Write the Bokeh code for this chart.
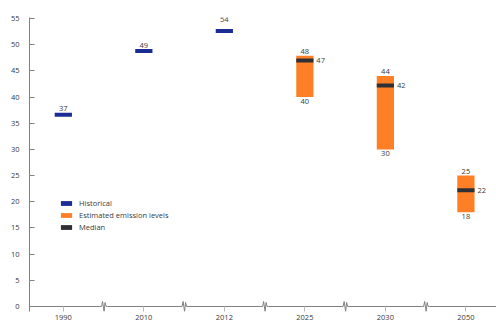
from bokeh.plotting import figure
from bokeh.models import Range1d, FixedTicker, Legend, LegendItem, ColumnDataSource
from bokeh.core.properties import value
from bokeh.embed import file_html
from bokeh.resources import INLINE

# ---- data ----
categories = ["1990", "2010", "2012", "2025", "2030", "2050"]
hist_idx = [0, 1, 2]
hist_values = [36.6, 48.8, 52.6]
hist_labels = [37, 49, 54]

est_idx = [3, 4, 5]
est_low = [40.0, 30.0, 18.0]
est_high = [47.9, 44.0, 25.0]
est_median = [47.0, 42.2, 22.2]
est_low_labels = [40, 30, 18]
est_high_labels = [48, 44, 25]
est_median_labels = [47, 42, 22]

y_ticks = list(range(0, 60, 5))

# ---- style ----
FONT = "Open Sans"
FS = "7.5px"
TXT = "#3a3a3a"
BLUE = "#1b2c92"
ORANGE = "#ff7f27"
DARK = "#2e3035"
AXIS = "#808080"

W, H = 496, 326
x0, x1 = -0.42, 5.38
y0, y1 = -0.955, 55.19

p = figure(width=W, height=H, output_backend="svg", toolbar_location=None,
           x_range=Range1d(x0, x1), y_range=Range1d(y0, y1),
           min_border_left=29, min_border_right=0, min_border_top=17, min_border_bottom=15)
p.outline_line_color = None
p.grid.visible = False
p.background_fill_color = "white"

BAR_W = 0.214
tf = value(FONT)

# historical
hsrc = ColumnDataSource(dict(x=hist_idx, y=hist_values, ly=hist_labels,
                             t=[str(v) for v in hist_labels]))
r_hist = p.rect(x="x", y="y", width=BAR_W, height=4, height_units="screen",
                fill_color=BLUE, line_color=None, source=hsrc)
p.text(x="x", y="ly", text="t", source=hsrc, text_align="center", text_baseline="bottom",
       y_offset=-2, text_font=tf, text_font_size=FS, text_color=TXT)

# estimates
esrc = ColumnDataSource(dict(x=est_idx, lo=est_low, hi=est_high, med=est_median,
                             tlo=[str(v) for v in est_low_labels],
                             thi=[str(v) for v in est_high_labels],
                             tmed=[str(v) for v in est_median_labels]))
r_est = p.vbar(x="x", bottom="lo", top="hi", width=BAR_W, fill_color=ORANGE,
               line_color=None, source=esrc)
r_med = p.rect(x="x", y="med", width=BAR_W, height=4, height_units="screen",
               fill_color=DARK, line_color=None, source=esrc)
p.text(x="x", y="hi", text="thi", source=esrc, text_align="center", text_baseline="bottom",
       y_offset=-2, text_font=tf, text_font_size=FS, text_color=TXT)
p.text(x="x", y="lo", text="tlo", source=esrc, text_align="center", text_baseline="top",
       y_offset=2, text_font=tf, text_font_size=FS, text_color=TXT)
p.text(x="x", y="med", text="tmed", source=esrc, text_align="left", text_baseline="middle",
       x_offset=11.5, text_font=tf, text_font_size=FS, text_color=TXT)

# x axis line with break marks between categories
frame_w = W - 29
frame_h = H - 17 - 15
dxp = (x1 - x0) / frame_w
dyp = (y1 - y0) / frame_h
zig = [(-4, 0), (-2, 0), (-1, 5), (0.5, -5), (1.5, 4), (2.5, 0), (4, 0)]
ax_x, ax_y = [x0], [0.0]
for i in range(len(categories) - 1):
    b = i + 0.5
    for zx, zy in zig:
        ax_x.append(b + zx * dxp)
        ax_y.append(zy * dyp)
ax_x.append(x1)
ax_y.append(0.0)
p.line(ax_x, ax_y, line_color=AXIS, line_width=1)

# axes
xa = p.xaxis[0]
xa.ticker = FixedTicker(ticks=list(range(len(categories))))
xa.major_label_overrides = {i: c for i, c in enumerate(categories)}
xa.axis_line_color = None
xa.major_tick_in = 5
xa.major_tick_out = 0
xa.major_tick_line_color = "#bbbbbb"
xa.minor_tick_line_color = None
xa.major_label_standoff = 3
xa.major_label_text_font = FONT
xa.major_label_text_font_size = FS
xa.major_label_text_color = TXT

ya = p.yaxis[0]
ya.ticker = FixedTicker(ticks=y_ticks)
ya.axis_line_color = AXIS
ya.major_tick_in = 5
ya.major_tick_out = 0
ya.major_tick_line_color = AXIS
ya.minor_tick_line_color = None
ya.major_label_standoff = 10
ya.major_label_text_font = FONT
ya.major_label_text_font_size = FS
ya.major_label_text_color = TXT

legend = Legend(items=[LegendItem(label="Historical", renderers=[r_hist]),
                       LegendItem(label="Estimated emission levels", renderers=[r_est]),
                       LegendItem(label="Median", renderers=[r_med])],
                location=(30, 79), glyph_width=14, glyph_height=6, label_height=8,
                spacing=2, padding=0, margin=0, label_standoff=6,
                border_line_color=None, background_fill_alpha=0,
                label_text_font=FONT, label_text_font_size=FS, label_text_color=TXT)
p.add_layout(legend, "center")

open("out.html", "w").write(file_html(p, INLINE))
